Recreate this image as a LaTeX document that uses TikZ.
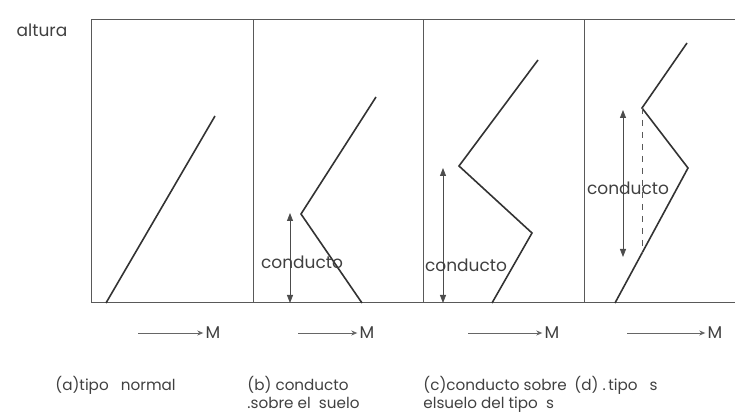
\documentclass[tikz,border=0pt]{standalone}
\usepackage{fontspec}
\setmainfont{Poppins}
\usetikzlibrary{arrows.meta,positioning}
\tikzset{
    every node/.style={font=\fontsize{8.5}{9}\selectfont,text=black!75,inner sep=1pt},
    frame/.style={draw=black!65,line width=0.5pt},
    curve/.style={draw=black!80,line width=0.8pt,line join=miter},
    duct/.style={draw=black!70,line width=0.4pt,{Triangle[length=4pt,width=3pt]}-{Triangle[length=4pt,width=3pt]}},
    axis/.style={draw=black!60,line width=0.4pt,-{Stealth[length=3pt,width=2.5pt]}},
    capt/.style={anchor=north west,align=left,font=\fontsize{7.6}{9}\selectfont}
}

\begin{document}
\begin{tikzpicture}[x=0.5pt,y=-0.5pt]
    \useasboundingbox (0,0) rectangle (735,417);
    % frame and panels
    \draw[frame] (735,20) -- (91,20) -- (91,303) -- (735,303);
    \foreach \px in {253,423,584}
        \draw[frame] (\px,20) -- (\px,303);
    \node (alt) at (42,30) {altura};

    % (a) normal
    \coordinate (a0) at (106,303);
    \coordinate (a1) at (215,116);
    \draw[curve] (a0) -- (a1);

    % (b) duct at the ground
    \coordinate (b0) at (362,303);
    \coordinate (b1) at (301,214);
    \coordinate (b2) at (376,97);
    \draw[curve] (b0) -- (b1) -- (b2);
    \coordinate (bt) at (290,213);
    \coordinate (bb) at (290,303);
    \draw[duct] (bb) -- (bt);
    \node (bd) at (302,262) {conducto};

    % (c) duct at the ground, s type
    \coordinate (c0) at (492,303);
    \coordinate (c1) at (532,233);
    \coordinate (c2) at (459,166);
    \coordinate (c3) at (538,60);
    \draw[curve] (c0) -- (c1) -- (c2) -- (c3);
    \coordinate (ct) at (443,168);
    \coordinate (cb) at (443,303);
    \draw[duct] (cb) -- (ct);
    \node (cd) at (466,265) {conducto};

    % (d) s type
    \coordinate (d0) at (615,303);
    \coordinate (d1) at (688,168);
    \coordinate (d2) at (642,108);
    \coordinate (d3) at (687,43);
    \draw[curve] (d0) -- (d1) -- (d2) -- (d3);
    \coordinate (dl) at (642,253);
    \draw[frame,dashed,line width=0.4pt] (d2) -- (dl);
    \coordinate (dt) at (623,110);
    \coordinate (db) at (623,257);
    \draw[duct] (db) -- (dt);
    \node (dd) at (628,188) {conducto};

    % M axes
    \node (ma) at (213,333) {M};
    \node (mb) at (367,333) {M};
    \node (mc) at (552,333) {M};
    \node (md) at (715,333) {M};
    \coordinate (ma0) at (138,333);
    \coordinate (mb0) at (298,333);
    \coordinate (mc0) at (468,333);
    \coordinate (md0) at (627,333);
    \draw[axis] (ma0) -- (ma);
    \draw[axis] (mb0) -- (mb);
    \draw[axis] (mc0) -- (mc);
    \draw[axis] (md0) -- (md);

    % captions
    \node[capt] (capa) at (53,374) {(a)tipo\ \ \ normal};
    \node[capt] (capb) at (245,374) {(b) conducto\\ .sobre el\ \ suelo};
    \node[capt] (capc) at (421,374) {(c)conducto sobre\\ elsuelo del tipo\ \ s};
    \node[capt] (capd) at (572,374) {(d) .\,tipo\ \ \ s};
\end{tikzpicture}
\end{document}
